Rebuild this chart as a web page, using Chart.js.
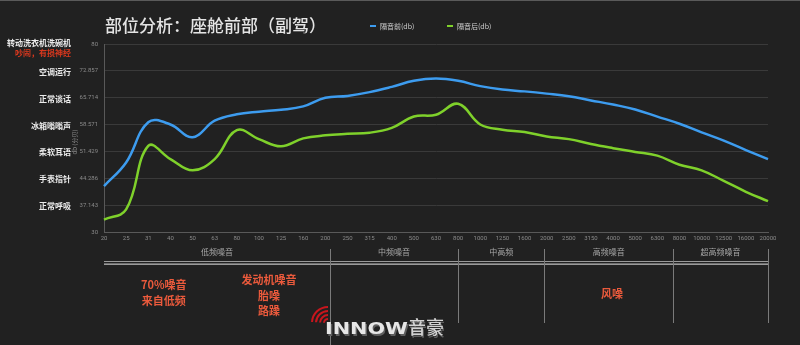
<!DOCTYPE html>
<html>
<head>
<meta charset="utf-8">
<script src="https://cdn.jsdelivr.net/npm/chart.js@4.4.1/dist/chart.umd.min.js"></script>
<style>
  html, body { margin: 0; padding: 0; background: #212121; }
  body { width: 800px; height: 345px; overflow: hidden; }
  #wrap { position: relative; width: 800px; height: 344px; border-top: 1px solid #5a5a5a; }
</style>
</head>
<body>
<div id="wrap"><canvas id="noiseChart" width="800" height="344"></canvas></div>
<script>
// Frequency bands (Hz)
const freqLabels = ['20','25','31','40','50','63','80','100','125','160','200','250','315','400','500','630','800',
  '1000','1250','1600','2000','2500','3150','4000','5000','6300','8000','10000','12500','16000','20000'];

// dB values
const beforeDb = [42.2, 48.5, 59.2, 58.6, 55.2, 59.6, 61.3, 62.0, 62.5, 63.4, 65.7, 66.2, 67.2, 68.6, 70.2, 70.8,
  70.2, 68.8, 67.9, 67.4, 66.8, 66.1, 65.0, 63.9, 62.6, 60.7, 58.8, 56.5, 54.3, 51.8, 49.4];
const afterDb = [33.3, 36.0, 52.9, 49.4, 46.4, 49.4, 57.1, 54.7, 52.8, 54.9, 55.7, 56.1, 56.4, 57.7, 60.7, 61.2,
  64.1, 58.6, 57.2, 56.6, 55.4, 54.7, 53.4, 52.3, 51.3, 50.3, 47.9, 46.4, 43.6, 40.7, 38.2];

const seriesNames = ['隔音前(db)', '隔音后(db)'];

// y ticks and the everyday sounds that go with them
const yTicks = [30, 37.143, 44.286, 51.429, 58.571, 65.714, 72.857, 80];
const levelNames = ['', '正常呼吸', '手表指针', '柔软耳语', '冰箱嗡嗡声', '正常谈话', '空调运行', '转动洗衣机洗碗机'];
const levelNote = '吵闹，有损神经';

// frequency ranges under the x axis (edges in category index units)
const bandEdges = [0, 10.2, 16, 19.9, 25.7, 30];
const bandNames = ['低频噪音', '中频噪音', '中高频', '高频噪音', '超高频噪音'];

// red notes: category index position and lines
const notes = [
  { at: 2.7, lines: ['70%噪音', '来自低频'], y: 284 },
  { at: 7.45, lines: ['发动机噪音', '胎噪', '路躁'], y: 279 },
  { at: 22.95, lines: ['风噪'], y: 293 }
];

const CJK = '"Noto Sans CJK SC", "Noto Sans", sans-serif';

const decorations = {
  id: 'decorations',
  afterDraw(chart) {
    const ctx = chart.ctx;
    const xs = chart.scales.x;
    const ys = chart.scales.y;
    ctx.save();

    // title
    ctx.fillStyle = '#e4e4e4';
    ctx.font = '500 17px ' + CJK;
    ctx.textAlign = 'left';
    ctx.textBaseline = 'middle';
    ctx.fillText('部位分析：座舱前部（副驾）', 105, 25);

    // legend
    const legendX = [370, 447];
    ctx.font = '7px ' + CJK;
    chart.data.datasets.forEach((ds, i) => {
      ctx.fillStyle = ds.borderColor;
      ctx.fillRect(legendX[i], 24, 6, 2);
      ctx.fillStyle = '#cfcfcf';
      ctx.fillText(ds.label, legendX[i] + 10, 25);
    });

    // y axis title
    ctx.save();
    ctx.translate(75, 141);
    ctx.rotate(-Math.PI / 2);
    ctx.textAlign = 'center';
    ctx.fillStyle = '#888';
    ctx.font = '6px ' + CJK;
    ctx.fillText('db (分贝)', 0, 0);
    ctx.restore();

    // everyday sound levels on the left
    ctx.textAlign = 'right';
    ctx.font = 'bold 8px ' + CJK;
    yTicks.forEach((v, i) => {
      if (!levelNames[i]) return;
      const y = ys.getPixelForValue(v);
      ctx.fillStyle = '#ececec';
      if (i === yTicks.length - 1) {
        ctx.fillText(levelNames[i], 71, y - 1.5);
        ctx.fillStyle = '#d9381e';
        ctx.fillText(levelNote, 71, y + 8.5);
      } else {
        ctx.fillText(levelNames[i], 71, y + 1);
      }
    });

    // bands under the axis
    const lineY = 262;
    const x0 = xs.getPixelForValue(0);
    const x1 = xs.getPixelForValue(30);
    ctx.lineWidth = 1;
    ctx.strokeStyle = '#9a9a9a';
    ctx.beginPath();
    ctx.moveTo(x0, lineY - 1.5);
    ctx.lineTo(x1, lineY - 1.5);
    ctx.moveTo(x0, lineY + 1.5);
    ctx.lineTo(x1, lineY + 1.5);
    ctx.stroke();
    ctx.strokeStyle = '#6e6e6e';
    ctx.beginPath();
    ctx.moveTo(x0, lineY + 0.5);
    ctx.lineTo(x1, lineY + 0.5);
    ctx.stroke();

    ctx.strokeStyle = '#7a7a7a';
    bandEdges.forEach((e, i) => {
      if (i === 0) return;
      const x = Math.round(xs.getPixelForValue(e)) + 0.5;
      ctx.beginPath();
      ctx.moveTo(x, 248);
      ctx.lineTo(x, i === 1 ? 345 : 322);
      ctx.stroke();
    });

    ctx.textAlign = 'center';
    ctx.fillStyle = '#a8a8a8';
    ctx.font = '8px ' + CJK;
    bandNames.forEach((name, i) => {
      const x = (xs.getPixelForValue(bandEdges[i]) + xs.getPixelForValue(bandEdges[i + 1])) / 2;
      ctx.fillText(name, x, 251);
    });

    // red notes
    ctx.fillStyle = '#ea5a3c';
    ctx.font = 'bold 11px ' + CJK;
    notes.forEach(n => {
      const x = xs.getPixelForValue(n.at);
      n.lines.forEach((t, k) => ctx.fillText(t, x, n.y + k * 15.5));
    });

    // logo
    ctx.strokeStyle = '#c8161d';
    ctx.lineWidth = 2;
    [4, 8, 12, 16].forEach(r => {
      ctx.beginPath();
      ctx.arc(328, 322, r, Math.PI * 1.02, Math.PI * 1.5);
      ctx.stroke();
    });
    ctx.textAlign = 'left';
    ctx.textBaseline = 'alphabetic';
    ctx.font = 'bold 15px "DejaVu Sans", sans-serif';
    const w = ctx.measureText('INNOW').width;
    ctx.save();
    ctx.translate(325, 333);
    ctx.scale(83 / w, 1);
    ctx.fillStyle = '#5e5e5e';
    ctx.fillText('INNOW', 1, 1.5);
    ctx.fillStyle = '#e6e6e6';
    ctx.fillText('INNOW', 0, 0);
    ctx.restore();
    ctx.font = '500 18px ' + CJK;
    ctx.fillStyle = '#5e5e5e';
    ctx.fillText('音豪', 409, 334.5);
    ctx.fillStyle = '#d2d2d2';
    ctx.fillText('音豪', 408, 333);

    ctx.restore();
  }
};

new Chart(document.getElementById('noiseChart'), {
  type: 'line',
  data: {
    labels: freqLabels,
    datasets: [{
      label: seriesNames[0],
      data: beforeDb,
      borderColor: '#3d9cef',
      borderWidth: 2.5,
      pointRadius: 0,
      tension: 0.4,
      fill: false
    }, {
      label: seriesNames[1],
      data: afterDb,
      borderColor: '#7fd12b',
      borderWidth: 2.5,
      pointRadius: 0,
      tension: 0.4,
      fill: false
    }]
  },
  options: {
    responsive: false,
    animation: false,
    devicePixelRatio: 1,
    layout: { padding: { top: 43, right: 32, left: 0, bottom: 0 } },
    plugins: {
      legend: { display: false },
      tooltip: { enabled: false }
    },
    scales: {
      x: {
        grid: { display: false, drawTicks: false },
        border: { color: '#595959', width: 1 },
        ticks: {
          color: '#8a8a8a',
          font: { size: 6, family: 'Roboto, sans-serif' },
          maxRotation: 0,
          autoSkip: false,
          padding: 3
        },
        afterFit: s => { s.height = 113; }
      },
      y: {
        min: 30,
        max: 80,
        afterBuildTicks: s => { s.ticks = yTicks.map(v => ({ value: v })); },
        grid: { color: '#3a3a3a', drawTicks: false },
        border: { color: '#595959', width: 1 },
        ticks: {
          color: '#8a8a8a',
          font: { size: 6, family: 'Roboto, sans-serif' },
          padding: 6,
          callback: v => String(v)
        },
        afterFit: s => { s.width = 104; }
      }
    }
  },
  plugins: [decorations]
});
</script>
</body>
</html>
